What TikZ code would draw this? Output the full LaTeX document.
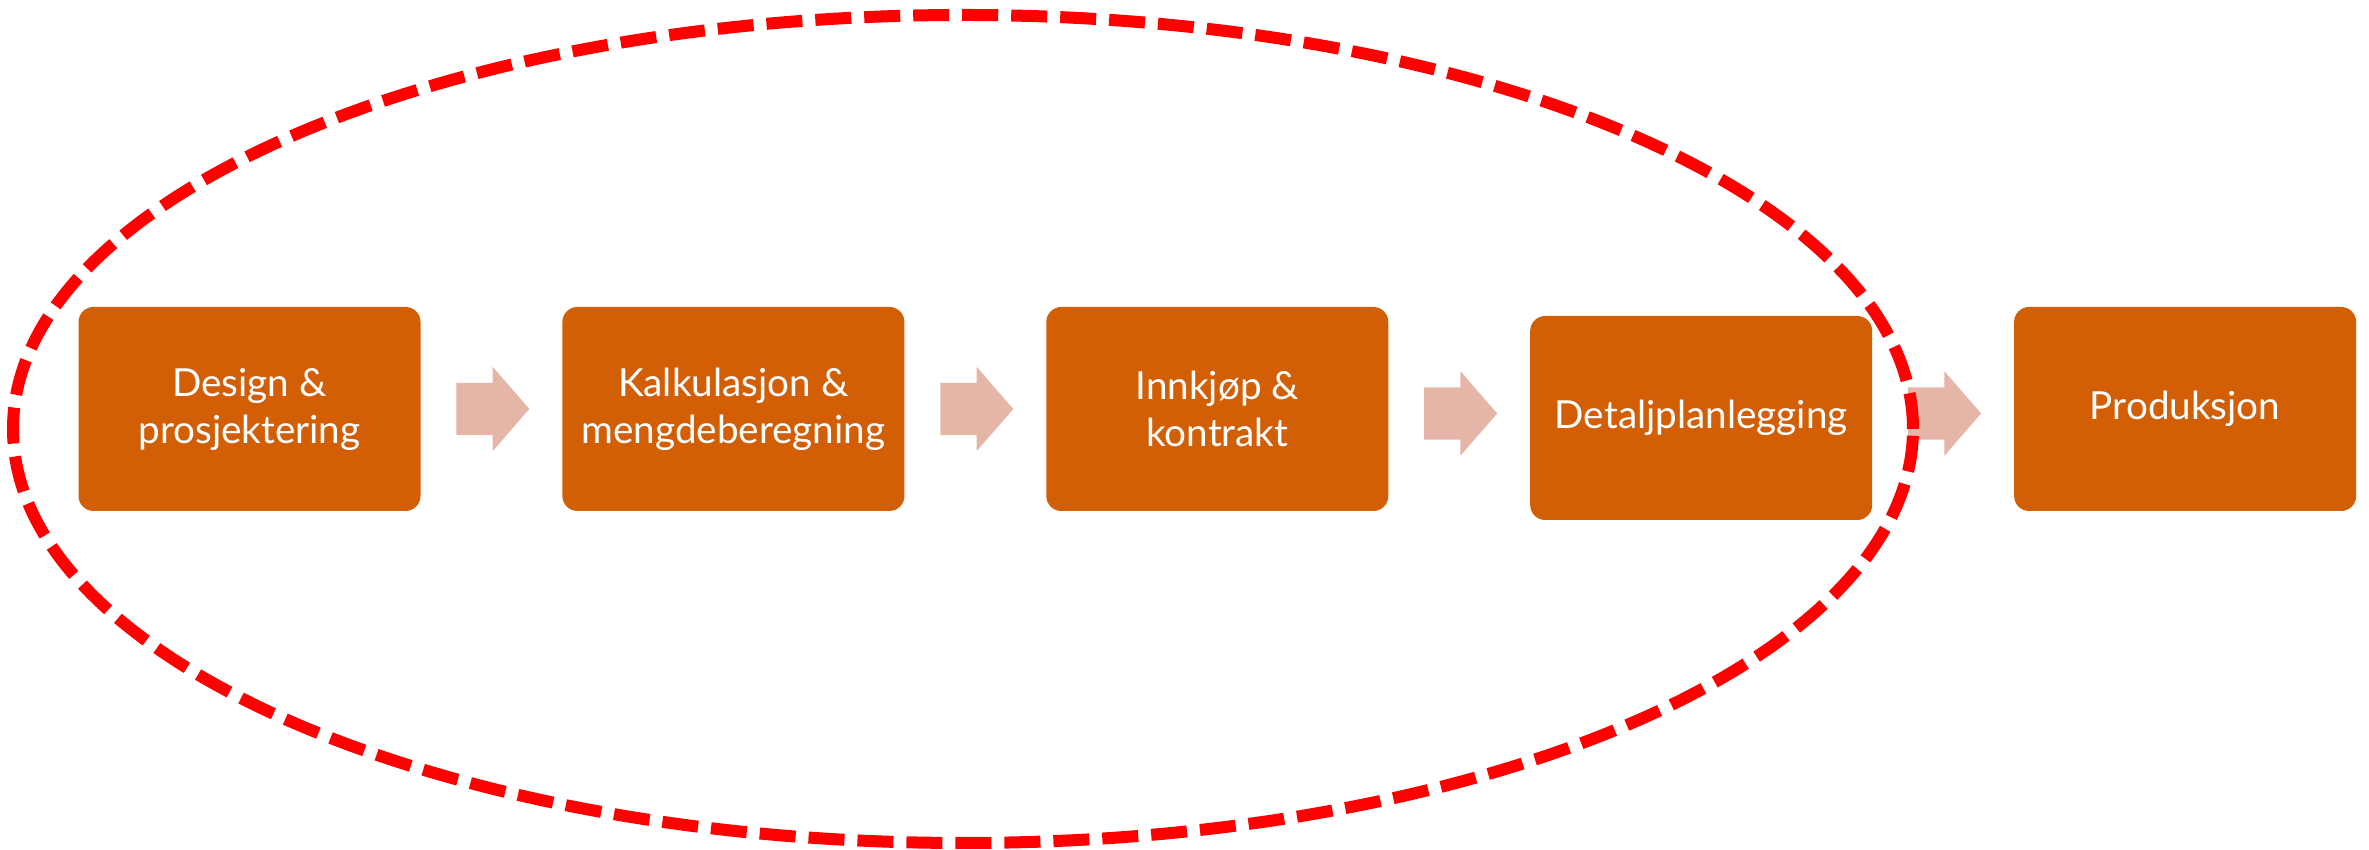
\documentclass[tikz,border=0pt]{standalone}
\usepackage{fontspec}
\setmainfont{Lato}
\usetikzlibrary{positioning, shapes.arrows, calc}
\definecolor{boxFill}{RGB}{210, 94, 5}
\definecolor{arrowFill}{RGB}{229, 181, 168}
\definecolor{ringColor}{RGB}{255, 0, 0}
\tikzset{
    step_box/.style={
        rectangle,
        rounded corners=0.15cm,
        fill=boxFill,
        draw=none,
        text=white,
        align=center,
        minimum width=3.42cm,
        minimum height=2.04cm,
        font=\fontsize{11}{13.4}\selectfont
    },
    flow_arrow/.style={
        single arrow,
        fill=arrowFill,
        draw=none,
        inner xsep=0pt,
        inner ysep=0.255cm,
        minimum height=0.73cm,
        single arrow head extend=0.16cm,
        single arrow tip angle=98,
        xshift=-0.1cm
    },
    scope_ring/.style={
        draw=ringColor,
        line width=0.12cm,
        dash pattern=on 0.36cm off 0.13cm
    }
}

\begin{document}
\begin{tikzpicture}[node distance=1.405cm]
    \useasboundingbox (0,0) rectangle (23.69,8.5);

    \node[step_box] (design) at (2.495,4.41) {Design \&\\prosjektering};
    \node[step_box, right=of design] (kalk) {Kalkulasjon \&\\mengdeberegning};
    \node[step_box, right=of kalk] (innkjop) {Innkjøp \&\\kontrakt};
    \node[step_box, right=of innkjop, yshift=-0.09cm] (detalj) {Detaljplanlegging};
    \node[step_box, right=of detalj, yshift=0.09cm] (prod) {Produksjon};

    \node[flow_arrow] (a1) at ($(design.east)!0.5!(kalk.west)$) {};
    \node[flow_arrow] (a2) at ($(kalk.east)!0.5!(innkjop.west)$) {};
    \node[flow_arrow] (a3) at ($(innkjop.east)!0.5!(detalj.west)$) {};
    \node[flow_arrow] (a4) at ($(detalj.east)!0.5!(prod.west)$) {};

    % the planning phase
    \coordinate (ring) at (9.63,4.21);
    \draw[scope_ring] (ring) ellipse [x radius=9.5cm, y radius=4.14cm];
\end{tikzpicture}
\end{document}
